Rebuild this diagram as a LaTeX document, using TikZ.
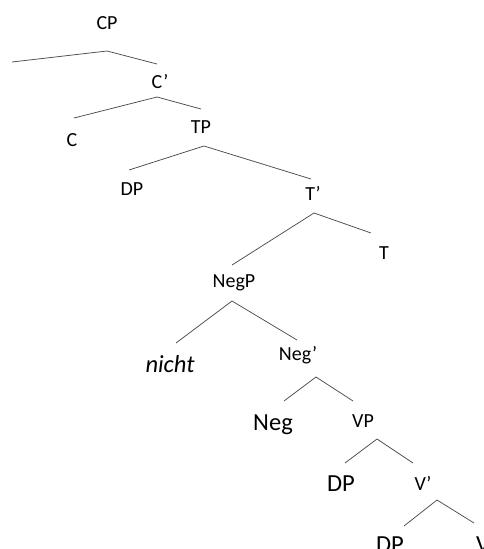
\documentclass[tikz,border=0pt]{standalone}
\usepackage{fontspec}
\setmainfont{Carlito}
\begin{document}
\begin{tikzpicture}[x=1pt,y=-1pt,
  lbl/.style={anchor=base,inner sep=0pt,font=\fontsize{20}{24}\selectfont},
  big/.style={lbl,font=\fontsize{24.5}{29}\selectfont},
  branch/.style={draw=black!70,line width=0.75pt}]
\useasboundingbox (0,0) rectangle (484,549);
\clip (0,0) rectangle (484,549);

% category labels
\node[lbl] (cp)   at (107,29)  {CP};
\node[lbl] (cbar) at (160,88)  {C’};
\node[lbl] (c)    at (72,146)  {C};
\node[lbl] (tp)   at (201,133) {TP};
\node[lbl] (dp1)  at (132,195) {DP};
\node[lbl] (tbar) at (313,200) {T’};
\node[lbl] (t)    at (384,259) {T};
\node[lbl] (negp) at (234,287) {NegP};
\node[big] (nicht) at (170,372) {\itshape nicht};
\node[lbl] (negbar) at (298,360) {Neg’};
\node[big] (neg)  at (273,430) {Neg};
\node[lbl] (vp)   at (363,427) {VP};
\node[big] (dp2)  at (341,491) {DP};
\node[lbl] (vbar) at (423,490) {V’};
\node[big] (dp3)  at (390,552) {DP};
\node[big] (v)    at (483,552) {V};

% branch points
\coordinate (cp-top)  at (107,51);
\coordinate (cp-l)    at (12,62);
\coordinate (cp-r)    at (157,64);
\coordinate (cbar-top) at (157,97);
\coordinate (cbar-l)  at (74,118);
\coordinate (cbar-r)  at (201,109);
\coordinate (tp-top)  at (204,146);
\coordinate (tp-l)    at (129,170);
\coordinate (tp-r)    at (311,179);
\coordinate (tbar-top) at (314,213);
\coordinate (tbar-l)  at (232,265);
\coordinate (tbar-r)  at (371,233);
\coordinate (negp-top) at (232,301);
\coordinate (negp-l)  at (176,343);
\coordinate (negp-r)  at (297,340);
\coordinate (negbar-top) at (316,377);
\coordinate (negbar-l) at (284,401);
\coordinate (negbar-r) at (353,401);
\coordinate (vp-top)  at (377,439);
\coordinate (vp-l)    at (345,463);
\coordinate (vp-r)    at (413,463);
\coordinate (vbar-top) at (437,500);
\coordinate (vbar-l)  at (404,526);
\coordinate (vbar-r)  at (474,523);

% branches
\draw[branch] (cp-l) -- (cp-top) -- (cp-r);
\draw[branch] (cbar-l) -- (cbar-top) -- (cbar-r);
\draw[branch] (tp-l) -- (tp-top) -- (tp-r);
\draw[branch] (tbar-l) -- (tbar-top) -- (tbar-r);
\draw[branch] (negp-l) -- (negp-top) -- (negp-r);
\draw[branch] (negbar-l) -- (negbar-top) -- (negbar-r);
\draw[branch] (vp-l) -- (vp-top) -- (vp-r);
\draw[branch] (vbar-l) -- (vbar-top) -- (vbar-r);
\end{tikzpicture}
\end{document}
